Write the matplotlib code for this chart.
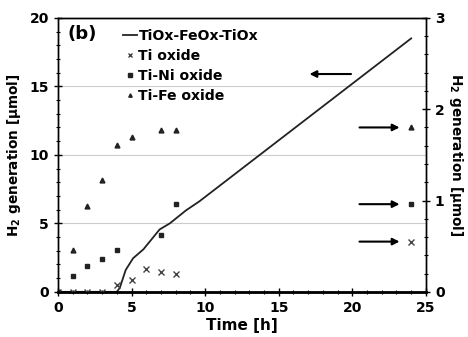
import numpy as np
import matplotlib.pyplot as plt
from matplotlib.ticker import MultipleLocator

plt.rcParams['font.family'] = ['DejaVu Sans']
plt.rcParams['font.weight'] = 'bold'

# TiOx-FeOx-TiOx (left axis, umol)
t_line = [0, 4.0, 4.2, 4.6, 5.1, 5.8, 6.9, 7.6, 8.7, 9.6, 24]
h2_line = [0, 0, 0.3, 1.6, 2.45, 3.1, 4.55, 5.0, 5.95, 6.6, 18.5]

# powders (right axis, umol)
t_pts = [0, 1, 2, 3, 4, 5, 6, 7, 8, 24]
ti_oxide = [0, 0, 0, 0, 0.07, 0.13, 0.25, 0.22, 0.20, 0.55]
t_ni = [0, 1, 2, 3, 4, 7, 8, 24]
ti_ni = [0, 0.17, 0.28, 0.36, 0.46, 0.62, 0.96, 0.96]
t_fe = [0, 1, 2, 3, 4, 5, 7, 8, 24]
ti_fe = [0, 0.46, 0.94, 1.22, 1.61, 1.70, 1.77, 1.77, 1.80]

fig = plt.figure(figsize=(4.68, 3.37), dpi=100)
ax = fig.add_axes([0.124, 0.134, 0.786, 0.813])
ax2 = ax.twinx()

ax.plot(t_line, h2_line, color='#222222', lw=1.3, label='TiOx-FeOx-TiOx')
ax2.plot(t_pts, ti_oxide, ls='none', marker='x', ms=4, mew=1, color='#444444', label='Ti oxide')
ax2.plot(t_ni, ti_ni, ls='none', marker='s', ms=3.5, color='#222222', label='Ti-Ni oxide')
ax2.plot(t_fe, ti_fe, ls='none', marker='^', ms=3.5, color='#222222', label='Ti-Fe oxide')

ax.set_xlim(0, 25)
ax.set_ylim(0, 20)
ax2.set_ylim(0, 3)
ax.yaxis.grid(True, color='#cccccc', lw=0.8)
ax.set_axisbelow(True)

ax.xaxis.set_major_locator(MultipleLocator(5))
ax.xaxis.set_minor_locator(MultipleLocator(1))
ax.yaxis.set_major_locator(MultipleLocator(5))
ax.yaxis.set_minor_locator(MultipleLocator(1))
ax2.yaxis.set_major_locator(MultipleLocator(1))
ax2.yaxis.set_minor_locator(MultipleLocator(0.2))

for a in (ax, ax2):
    a.tick_params(which='major', direction='inout', length=6, width=1, labelsize=10)
    a.tick_params(which='minor', direction='inout', length=3, width=0.8)
    for s in a.spines.values():
        s.set_linewidth(1)
ax.spines['bottom'].set_linewidth(2)

ax.set_xlabel('Time [h]', fontsize=11, fontweight='bold', labelpad=2)
ax.set_ylabel('H$_\\mathbf{2}$ generation [μmol]', fontsize=9.8, fontweight='bold', labelpad=5)
ax2.set_ylabel('H$_\\mathbf{2}$ generation [μmol]', fontsize=9.8, fontweight='bold', rotation=270, labelpad=15)

h1, l1 = ax.get_legend_handles_labels()
h2, l2 = ax2.get_legend_handles_labels()
ax.legend(h1 + h2, l1 + l2, loc='upper left', bbox_to_anchor=(0.15, 0.995), frameon=False,
          fontsize=10.1, handlelength=1.0, handletextpad=0.1, labelspacing=0.42,
          borderaxespad=0.3, markerscale=0.7)
ax.text(0.025, 0.94, '(b)', transform=ax.transAxes, fontsize=13, fontweight='bold', va='center')

# arrows pointing to the axes
ax.annotate('', xy=(16.9, 15.9), xytext=(20.1, 15.9),
            arrowprops=dict(arrowstyle='-|>', color='black', lw=1.5, mutation_scale=10))
for yv in (1.8, 0.96, 0.55):
    ax2.annotate('', xy=(23.4, yv), xytext=(20.3, yv),
                 arrowprops=dict(arrowstyle='-|>', color='black', lw=1.5, mutation_scale=10))

fig.savefig('out.png', dpi=100)
